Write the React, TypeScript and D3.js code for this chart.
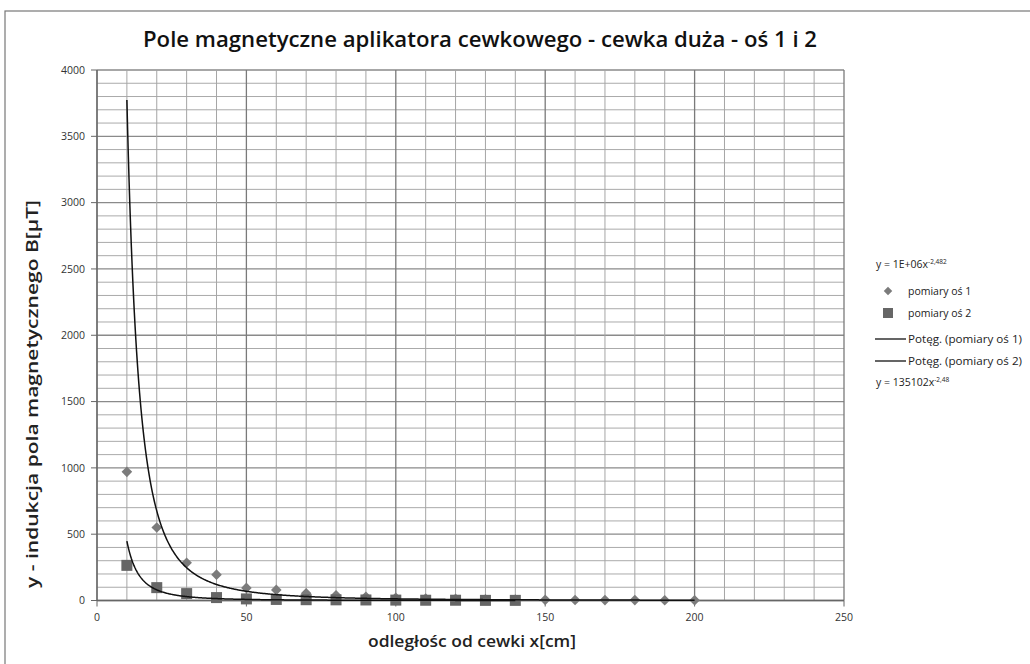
import React from "react";
import * as d3 from "d3";

// pomiary oś 1 (romby)
const xOs1 = [10, 20, 30, 40, 50, 60, 70, 80, 90, 100, 110, 120, 130, 140, 150, 160, 170, 180, 190, 200];
const yOs1 = [970, 550, 285, 195, 95, 80, 55, 40, 28, 20, 15, 12, 9, 7, 5, 4, 3, 3, 2, 2];
// pomiary oś 2 (kwadraty)
const xOs2 = [10, 20, 30, 40, 50, 60, 70, 80, 90, 100, 110, 120, 130, 140];
const yOs2 = [265, 97, 52, 22, 12, 8, 6, 5, 4, 3, 2, 2, 1, 1];

// trend potęgowy y = a * x^b
const fit1 = { a: 1.145e6, b: -2.482 };
const fit2 = { a: 135102, b: -2.48 };

const xTicks = [0, 50, 100, 150, 200, 250];
const yTicks = [0, 500, 1000, 1500, 2000, 2500, 3000, 3500, 4000];

const W = 1030;
const H = 664;
const left = 97;
const right = 844;
const top = 70;
const bottom = 600.5;

const font = "'Open Sans', 'Liberation Sans', sans-serif";

const App = () => {
  const x = d3.scaleLinear().domain([0, 250]).range([left, right]);
  const y = d3.scaleLinear().domain([0, 4000]).range([bottom, top]);

  const line = d3
    .line<[number, number]>()
    .x((d) => x(d[0]))
    .y((d) => y(d[1]));

  const trend = (f: { a: number; b: number }, x0: number, x1: number) =>
    line(d3.range(x0, x1 + 0.01, 0.25).map((v) => [v, f.a * Math.pow(v, f.b)] as [number, number]));

  const minorX = d3.range(0, 251, 10);
  const minorY = d3.range(0, 4001, 100);

  const diamond = (cx: number, cy: number, s: number, key?: string) => (
    <rect key={key} x={-s / 2} y={-s / 2} width={s} height={s} fill="#7b7b7b"
      transform={`translate(${cx},${cy}) rotate(45)`} />
  );

  return (
    <svg width={W} height={H} style={{ position: "absolute", left: 0, top: 0, background: "#fff" }}>
      <rect x={5} y={11} width={1100} height={800} fill="#fff" stroke="#777" strokeWidth={1.2} />

      {/* siatka */}
      {minorY.map((v) => (
        <line key={"gy" + v} x1={left} x2={right} y1={y(v)} y2={y(v)}
          stroke={v % 500 === 0 ? "#8a8a8a" : "#aaa"} strokeWidth={v % 500 === 0 ? 1.3 : 1} />
      ))}
      {minorX.map((v) => (
        <line key={"gx" + v} x1={x(v)} x2={x(v)} y1={top} y2={bottom}
          stroke={v % 50 === 0 ? "#7a7a7a" : "#a5a5a5"} strokeWidth={v % 50 === 0 ? 1.3 : 1} />
      ))}

      {/* osie */}
      <line x1={left} x2={right} y1={bottom} y2={bottom} stroke="#666" strokeWidth={1.3} />
      <line x1={left} x2={left} y1={top} y2={bottom} stroke="#666" strokeWidth={1.3} />
      {yTicks.map((v) => (
        <g key={"yt" + v}>
          <line x1={left - 6} x2={left} y1={y(v)} y2={y(v)} stroke="#666" />
          <text x={left - 12} y={y(v)} dy="0.35em" textAnchor="end" fontSize={10.5} fill="#333" fontFamily={font}>
            {v}
          </text>
        </g>
      ))}
      {xTicks.map((v) => (
        <g key={"xt" + v}>
          <line x1={x(v)} x2={x(v)} y1={bottom} y2={bottom + 6} stroke="#666" />
          <text x={x(v)} y={bottom + 20} textAnchor="middle" fontSize={10.5} fill="#333" fontFamily={font}>
            {v}
          </text>
        </g>
      ))}

      {/* punkty oś 1 */}
      {xOs1.map((v, i) => diamond(x(v), y(yOs1[i]), 7.5, "d" + v))}
      {/* punkty oś 2 */}
      {xOs2.map((v, i) => (
        <rect key={"s" + v} x={x(v) - 5.5} y={y(yOs2[i]) - 5.5} width={11} height={11} fill="#666" />
      ))}

      {/* linie trendu */}
      <path d={trend(fit1, 10, 200) || ""} fill="none" stroke="#111" strokeWidth={1.5} />
      <path d={trend(fit2, 10, 140) || ""} fill="none" stroke="#111" strokeWidth={1.5} />

      {/* tytuł */}
      <text x={480} y={47} textAnchor="middle" fontSize={21} fontWeight={600} fill="#111" fontFamily={font}
        textLength={674} lengthAdjust="spacingAndGlyphs">
        Pole magnetyczne aplikatora cewkowego - cewka duża - oś 1 i 2
      </text>
      <text transform="translate(38,394) rotate(-90)" textAnchor="middle" fontSize={17}
        fontWeight={600} fill="#222" fontFamily={font} textLength={388} lengthAdjust="spacingAndGlyphs">
        y - indukcja pola magnetycznego B[µT]
      </text>
      <text x={472} y={647} textAnchor="middle" fontSize={16} fontWeight={600} fill="#222" fontFamily={font}
        textLength={208} lengthAdjust="spacingAndGlyphs">
        odległośc od cewki x[cm]
      </text>

      {/* legenda */}
      <g fontFamily={font} fontSize={10.5} fill="#222">
        <text x={876} y={268}>
          y = 1E+06x<tspan fontSize={6.5} dy={-4}>-2,482</tspan>
        </text>
        {diamond(888, 291, 6)}
        <text x={908} y={295}>pomiary oś 1</text>
        <rect x={883} y={308} width={10} height={10} fill="#666" />
        <text x={908} y={317}>pomiary oś 2</text>
        <line x1={875} x2={906} y1={339} y2={339} stroke="#111" strokeWidth={1.3} />
        <text x={908} y={343} textLength={114} lengthAdjust="spacingAndGlyphs">Potęg. (pomiary oś 1)</text>
        <line x1={875} x2={906} y1={361} y2={361} stroke="#111" strokeWidth={1.3} />
        <text x={908} y={365} textLength={114} lengthAdjust="spacingAndGlyphs">Potęg. (pomiary oś 2)</text>
        <text x={876} y={386}>
          y = 135102x<tspan fontSize={6.5} dy={-4}>-2,48</tspan>
        </text>
      </g>
    </svg>
  );
};

export default App;
